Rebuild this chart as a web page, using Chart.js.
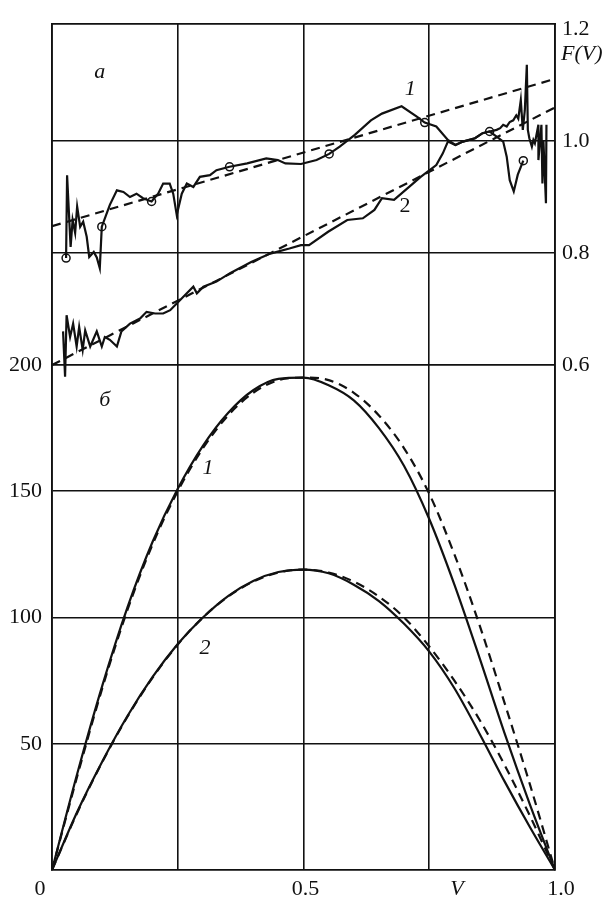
<!DOCTYPE html>
<html lang="ru">

<head>
  <meta charset="UTF-8" />
  <title>F(V)</title>
  <script src="https://cdn.jsdelivr.net/npm/chart.js@4.4.1/dist/chart.umd.min.js"></script>
  <style>
    html, body { margin: 0; padding: 0; background: #fff; }
    canvas { display: block; }
  </style>
</head>

<body>
  <canvas id="chart" width="604" height="902"></canvas>

  <!-- data -->
  <script>
    // panel б: values on a common V grid
    const vGrid = [0, 0.05, 0.1, 0.15, 0.2, 0.25, 0.3, 0.35, 0.4, 0.45, 0.5, 0.55, 0.6, 0.65, 0.7, 0.75, 0.8, 0.85, 0.9, 0.95, 1];
    const b1Solid = [0, 38, 73, 104, 130, 151, 168, 181, 190, 194.5, 195, 192, 186, 175, 160, 139, 113, 84, 54, 26, 0];
    const b1Dashed = [0, 37, 72, 103, 129, 150, 167, 180, 189, 194, 195, 194, 189, 180, 167, 149, 125, 97, 66, 34, 0];
    const b2Solid = [0, 23, 43, 61, 76.5, 89.5, 100, 108.5, 114.5, 118, 119, 117.5, 113, 106.5, 97.5, 86.5, 72, 54, 35, 17, 0];
    const b2Dashed = [0, 22.6, 42.8, 60.7, 76.2, 89.3, 100, 108.3, 114.2, 117.8, 119, 117.8, 114.2, 108.3, 100, 88.5, 75, 59.5, 41.5, 21.5, 0];

    // panel a: F(V), curve 1
    const a1V = [0.028, 0.030, 0.037, 0.041, 0.046, 0.050, 0.056, 0.062, 0.069, 0.074, 0.083, 0.089, 0.095, 0.099,
      0.115, 0.129, 0.142, 0.155, 0.168, 0.181, 0.198, 0.211, 0.221, 0.234, 0.241, 0.248, 0.258, 0.268, 0.281,
      0.294, 0.314, 0.327, 0.353, 0.388, 0.426, 0.449, 0.464, 0.495, 0.526, 0.551, 0.572, 0.602, 0.634, 0.656,
      0.695, 0.726, 0.741, 0.764, 0.787, 0.802, 0.817, 0.841, 0.856, 0.870, 0.884, 0.897, 0.904, 0.910, 0.918,
      0.926, 0.937];
    const a1F = [0.791, 0.939, 0.811, 0.859, 0.836, 0.883, 0.847, 0.856, 0.829, 0.793, 0.802, 0.792, 0.773, 0.847,
      0.886, 0.912, 0.909, 0.900, 0.906, 0.898, 0.892, 0.906, 0.924, 0.924, 0.906, 0.868, 0.906, 0.924, 0.918,
      0.936, 0.939, 0.948, 0.954, 0.960, 0.969, 0.966, 0.960, 0.959, 0.966, 0.977, 0.990, 1.011, 1.037, 1.049,
      1.062, 1.043, 1.033, 1.026, 1.002, 0.993, 0.999, 1.005, 1.014, 1.017, 1.008, 0.999, 0.972, 0.930, 0.910,
      0.940, 0.965];

    // panel a: F(V), curve 2
    const a2V = [0.022, 0.026, 0.029, 0.036, 0.042, 0.049, 0.054, 0.061, 0.066, 0.076, 0.089, 0.099, 0.105, 0.115,
      0.129, 0.138, 0.155, 0.175, 0.188, 0.205, 0.221, 0.235, 0.248, 0.268, 0.281, 0.288, 0.301, 0.327, 0.354,
      0.396, 0.434, 0.472, 0.495, 0.511, 0.549, 0.587, 0.618, 0.641, 0.656, 0.680, 0.710, 0.733, 0.764, 0.777,
      0.787, 0.802, 0.817, 0.841, 0.856, 0.870, 0.884, 0.891, 0.897, 0.904, 0.910, 0.917, 0.923, 0.927, 0.932,
      0.936, 0.940, 0.944, 0.946, 0.949, 0.954, 0.957, 0.960, 0.967, 0.967, 0.973, 0.975, 0.977, 0.982, 0.983];
    const a2F = [0.660, 0.579, 0.689, 0.650, 0.674, 0.633, 0.668, 0.627, 0.662, 0.633, 0.660, 0.633, 0.650, 0.645,
      0.633, 0.660, 0.674, 0.683, 0.695, 0.692, 0.692, 0.698, 0.710, 0.728, 0.740, 0.728, 0.740, 0.749, 0.764,
      0.784, 0.799, 0.808, 0.814, 0.814, 0.838, 0.859, 0.862, 0.877, 0.898, 0.895, 0.918, 0.936, 0.957, 0.978,
      0.999, 0.993, 0.999, 1.005, 1.014, 1.017, 1.020, 1.023, 1.029, 1.026, 1.034, 1.037, 1.046, 1.040, 1.073,
      1.020, 1.055, 1.136, 1.020, 1.005, 0.990, 1.002, 0.996, 1.029, 0.966, 1.029, 0.924, 1.000, 0.889, 1.029];

    // straight fits and measured points of panel a
    const fitV = [0, 1];
    const fit1F = [0.848, 1.111];
    const fit2F = [0.600, 1.060];
    const markV = [0.028, 0.099, 0.198, 0.353, 0.551, 0.741, 0.870, 0.937];
    const markF = [0.791, 0.847, 0.892, 0.954, 0.977, 1.033, 1.017, 0.965];

    const bTicks = [50, 100, 150, 200];
    const aTicks = [0.6, 0.8, 1.0, 1.2];
    const vTicks = [0, 0.25, 0.5, 0.75, 1];
  </script>

  <!-- chart -->
  <script>
    const INK = "#111";
    const SERIF = '"Liberation Serif", "DejaVu Serif", serif';

    const pts = (xs, ys) => xs.map((x, i) => ({ x: x, y: ys[i] }));

    function line(data, axis, dashed, smooth) {
      return {
        data: data,
        yAxisID: axis,
        borderColor: INK,
        borderWidth: 2.2,
        borderDash: dashed ? [9, 6] : [],
        pointRadius: 0,
        fill: false,
        tension: 0,
        cubicInterpolationMode: smooth ? "monotone" : "default",
      };
    }

    // text on the plot: axis labels, panel letters, curve numbers
    const textLabels = {
      id: "textLabels",
      afterDraw(chart) {
        const { ctx, chartArea } = chart;
        const x = chart.scales.x, yA = chart.scales.yA, yB = chart.scales.yB;
        ctx.save();
        ctx.fillStyle = INK;
        ctx.textAlign = "center";
        ctx.textBaseline = "middle";
        const put = (txt, px, py, italic) => {
          ctx.font = (italic ? "italic " : "") + "22px " + SERIF;
          ctx.fillText(txt, px, py);
        };
        const yLab = chartArea.bottom + 19;
        put("0", x.getPixelForValue(0) - 12, yLab);
        put("0.5", x.getPixelForValue(0.5) + 2, yLab);
        put("V", x.getPixelForValue(0.805), yLab, true);
        put("1.0", x.getPixelForValue(1) + 6, yLab);

        ctx.textAlign = "left";
        put("F(V)", chartArea.right + 6, yA.getPixelForValue(1.155), true);
        ctx.textAlign = "center";

        put("a", x.getPixelForValue(0.095), yA.getPixelForValue(1.122), true);
        put("1", x.getPixelForValue(0.712), yA.getPixelForValue(1.092), true);
        put("2", x.getPixelForValue(0.702), yA.getPixelForValue(0.883));
        put("б", x.getPixelForValue(0.105), yB.getPixelForValue(186), true);
        put("1", x.getPixelForValue(0.31), yB.getPixelForValue(159), true);
        put("2", x.getPixelForValue(0.304), yB.getPixelForValue(88), true);
        ctx.restore();
      },
    };

    const gridLine = { color: INK, lineWidth: 1.6, drawTicks: false };
    const frame = { display: true, color: INK, width: 1.8 };
    const tickFont = { family: SERIF, size: 22 };

    const config = {
      type: "line",
      data: {
        datasets: [
          line(pts(vGrid, b1Solid), "yB", false, true),
          line(pts(vGrid, b1Dashed), "yB", true, true),
          line(pts(vGrid, b2Solid), "yB", false, true),
          line(pts(vGrid, b2Dashed), "yB", true, true),
          line(pts(fitV, fit1F), "yA", true, false),
          line(pts(fitV, fit2F), "yA", true, false),
          line(pts(a1V, a1F), "yA", false, false),
          line(pts(a2V, a2F), "yA", false, false),
          {
            data: pts(markV, markF),
            yAxisID: "yA",
            showLine: false,
            pointRadius: 4,
            pointBorderWidth: 1.5,
            pointBorderColor: INK,
            pointBackgroundColor: "rgba(0,0,0,0)",
          },
        ],
      },
      options: {
        responsive: false,
        devicePixelRatio: 1,
        animation: false,
        events: [],
        layout: { padding: { top: 24, left: 0, right: 0, bottom: 0 } },
        plugins: { legend: { display: false }, tooltip: { enabled: false } },
        scales: {
          x: {
            type: "linear",
            min: 0,
            max: 1,
            afterBuildTicks: (s) => { s.ticks = vTicks.map((v) => ({ value: v })); },
            afterFit: (s) => { s.height = 32; },
            ticks: { display: false },
            grid: gridLine,
            border: frame,
          },
          xTop: {
            type: "linear",
            position: "top",
            min: 0,
            max: 1,
            afterFit: (s) => { s.height = 0; },
            ticks: { display: false },
            grid: { display: false },
            border: frame,
          },
          yB: {
            type: "linear",
            position: "left",
            min: 0,
            max: 335.05,
            afterBuildTicks: (s) => { s.ticks = bTicks.map((v) => ({ value: v })); },
            afterFit: (s) => { s.width = 52; },
            ticks: { color: INK, font: tickFont, padding: 10 },
            grid: gridLine,
            border: frame,
          },
          yA: {
            type: "linear",
            position: "right",
            min: -0.3018,
            max: 1.209,
            afterBuildTicks: (s) => { s.ticks = aTicks.map((v) => ({ value: v })); },
            afterFit: (s) => { s.width = 49; },
            ticks: {
              color: INK,
              font: tickFont,
              padding: 7,
              callback: (v) => v.toFixed(1),
            },
            grid: {
              drawTicks: false,
              lineWidth: 1.6,
              color: (c) => (c.tick && c.tick.value > 1.1 ? "rgba(0,0,0,0)" : INK),
            },
            border: frame,
          },
        },
      },
      plugins: [textLabels],
    };

    const chart = new Chart(document.getElementById("chart").getContext("2d"), config);
  </script>
</body>

</html>
